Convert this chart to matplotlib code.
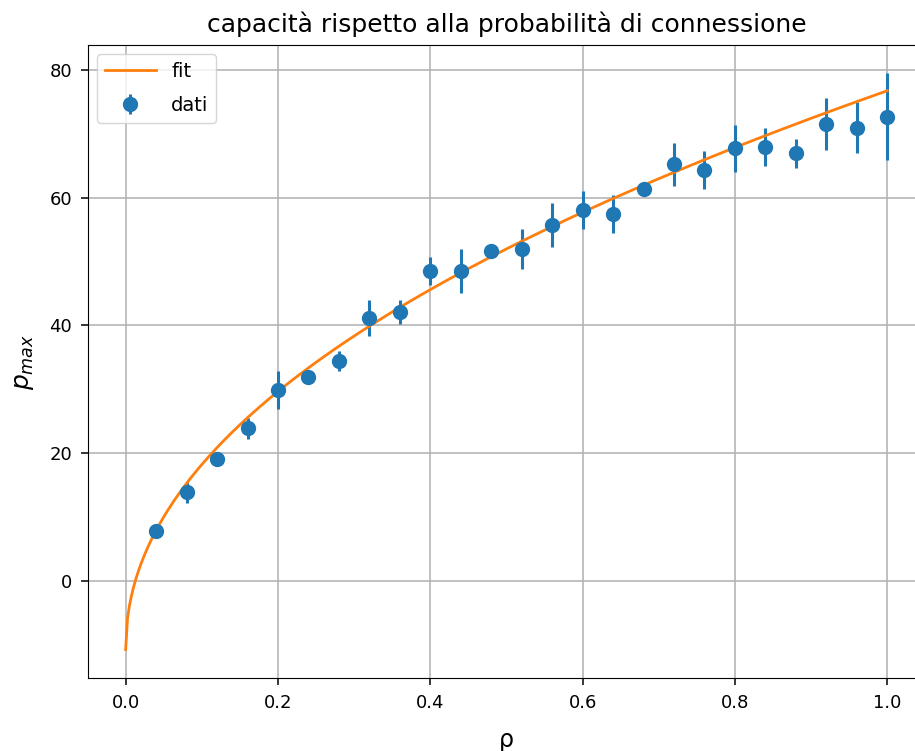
import numpy as np
import matplotlib
matplotlib.use("Agg")
import matplotlib.pyplot as plt

# connection probability and measured max capacity
rho = [0.04, 0.08, 0.12, 0.16, 0.20, 0.24, 0.28, 0.32, 0.36, 0.40, 0.44, 0.48, 0.52,
       0.56, 0.60, 0.64, 0.68, 0.72, 0.76, 0.80, 0.84, 0.88, 0.92, 0.96, 1.00]
p_max = [7.9, 13.9, 19.1, 23.9, 29.9, 32.0, 34.4, 41.1, 42.1, 48.5, 48.5, 51.6, 51.9,
         55.7, 58.0, 57.4, 61.4, 65.2, 64.3, 67.7, 67.9, 66.9, 71.5, 70.9, 72.6]
p_err = [0.8, 1.6, 0.8, 1.6, 3.0, 0.9, 1.6, 2.8, 1.9, 2.2, 3.5, 0.9, 3.1,
         3.4, 3.0, 3.0, 0.9, 3.4, 2.9, 3.7, 2.9, 2.3, 4.1, 4.0, 6.8]

# fitted model p = a * rho**b + c
fit_a = 87.4
fit_b = 0.48
fit_c = -10.7

rho_fit = np.linspace(0, 1, 400)
p_fit = fit_a * rho_fit ** fit_b + fit_c

fig = plt.figure(figsize=(9.15, 7.51), dpi=100)
ax = fig.add_axes([0.0957, 0.0967, 0.9156, 0.8438])

ax.errorbar(rho, p_max, yerr=p_err, fmt="o", markersize=10, elinewidth=2.2,
            label="dati")
ax.plot(rho_fit, p_fit, lw=2, label="fit")

ax.set_xlim(-0.05, 1.05)
ax.set_title("capacità rispetto alla probabilità di connessione", fontsize=18, pad=9)
ax.set_xlabel("ρ", fontsize=17, labelpad=12)
ax.set_ylabel("$p_{max}$", fontsize=18, labelpad=10)
ax.tick_params(labelsize=13, length=5, width=1.1, pad=6)
ax.grid(True, lw=1.1)
ax.legend(fontsize=14, loc="upper left", handlelength=2.6, labelspacing=0.75)

fig.savefig("out.png", dpi=100)
